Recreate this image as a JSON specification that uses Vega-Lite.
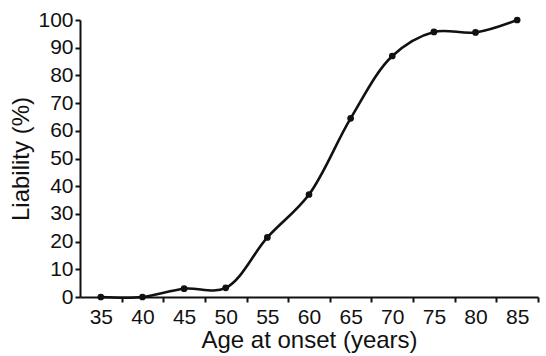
{
  "$schema": "https://vega.github.io/schema/vega-lite/v6.json",
  "width": 458,
  "height": 277,
  "autosize": {"type": "none"},
  "padding": {"left": 80, "top": 20, "right": 8, "bottom": 59},
  "background": "white",
  "config": {
    "view": {"stroke": null},
    "font": "Liberation Sans",
    "axis": {
      "grid": false,
      "domainColor": "#111",
      "domainWidth": 2,
      "tickColor": "#111",
      "tickWidth": 2,
      "tickSize": 5,
      "labelColor": "#111",
      "titleColor": "#111",
      "labelFont": "Liberation Sans",
      "titleFont": "Liberation Sans",
      "labelFontSize": 21,
      "titleFontSize": 24,
      "titleFontWeight": "normal"
    }
  },
  "data": {
    "values": [
      {"age": 35, "liability": 0},
      {"age": 40, "liability": 0},
      {"age": 45, "liability": 3},
      {"age": 50, "liability": 3.3},
      {"age": 55, "liability": 21.5},
      {"age": 60, "liability": 37},
      {"age": 65, "liability": 64.5},
      {"age": 70, "liability": 87},
      {"age": 75, "liability": 95.7},
      {"age": 80, "liability": 95.5},
      {"age": 85, "liability": 100}
    ]
  },
  "encoding": {
    "x": {
      "field": "age",
      "type": "quantitative",
      "scale": {"domain": [32.5, 87.5], "nice": false, "zero": false},
      "axis": {
        "title": "Age at onset (years)",
        "values": [35, 40, 45, 50, 55, 60, 65, 70, 75, 80, 85],
        "tickOffset": 20.82,
        "labelOffset": -20.82,
        "labelPadding": 4,
        "titleY": 31,
        "titleBaseline": "top",
        "labelFlush": false
      }
    },
    "y": {
      "field": "liability",
      "type": "quantitative",
      "scale": {"domain": [0, 100], "nice": false},
      "axis": {
        "title": "Liability (%)",
        "values": [0, 10, 20, 30, 40, 50, 60, 70, 80, 90, 100],
        "labelPadding": 2,
        "titleX": -47,
        "labelFlush": false
      }
    }
  },
  "layer": [
    {"mark": {"type": "line", "interpolate": "catmull-rom", "color": "#111", "strokeWidth": 2.6}},
    {"mark": {"type": "point", "filled": true, "color": "#111", "opacity": 1, "size": 45}}
  ]
}
